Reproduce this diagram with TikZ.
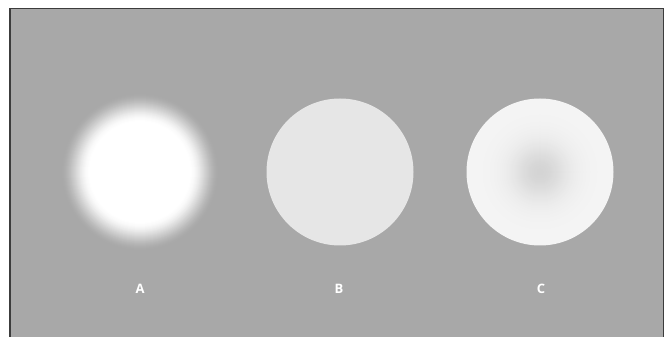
\documentclass[tikz,border=0pt]{standalone}
\usepackage{fontspec}
\setsansfont{Open Sans}
\usepackage{tikz}
\usetikzlibrary{positioning}
\definecolor{panelgray}{HTML}{A8A8A8}
\definecolor{framegray}{HTML}{3C3C3C}
\definecolor{flatgray}{HTML}{E6E6E6}
\definecolor{offwhite}{HTML}{F4F4F4}
\definecolor{coregray}{HTML}{D4D4D4}

\begin{document}
\begin{tikzpicture}[
  x=1pt, y=1pt,
  font=\sffamily,
  disc/.style={
    circle,
    inner sep=0pt,
    minimum size=147pt,
    draw=none
  },
  letter/.style={
    font=\sffamily\bfseries\fontsize{13}{15}\selectfont,
    text=white,
    inner sep=1pt
  }
]
  \useasboundingbox (0,0) rectangle (665,337);
  \fill[white] (0,0) rectangle (665,337);

  % panel and its frame
  \fill[panelgray] (10,0) rectangle (663,328.5);
  \draw[framegray, line width=1.6pt] (9.8,0) -- (9.8,328.5) -- (663.4,328.5) -- (663.4,0);

  % the three discs
  \node[disc] (discA) at (140,165) {};
  \node[disc, fill=flatgray] (discB) at (340,165) {};
  \node[disc, fill=offwhite] (discC) at (540,165) {};

  % A: white disc, edge blurred into the panel
  \foreach \r in {80,79,...,50} {
    \pgfmathsetmacro\t{(\r-50)/30}
    \pgfmathsetmacro\p{100*(1-(3*\t*\t-2*\t*\t*\t))}
    \fill[white!\p!panelgray] (discA.center) circle[radius=\r];
  }

  % C: soft gray haze in the middle
  \foreach \r in {60,59,...,1} {
    \pgfmathsetmacro\p{100*exp(-(\r/29)^2)}
    \fill[coregray!\p!offwhite] (discC.center) circle[radius=\r];
  }

  % labels
  \node[letter] (labA) at (140,48) {A};
  \node[letter] (labB) at (339,48) {B};
  \node[letter] (labC) at (541,48) {C};

\end{tikzpicture}
\end{document}
